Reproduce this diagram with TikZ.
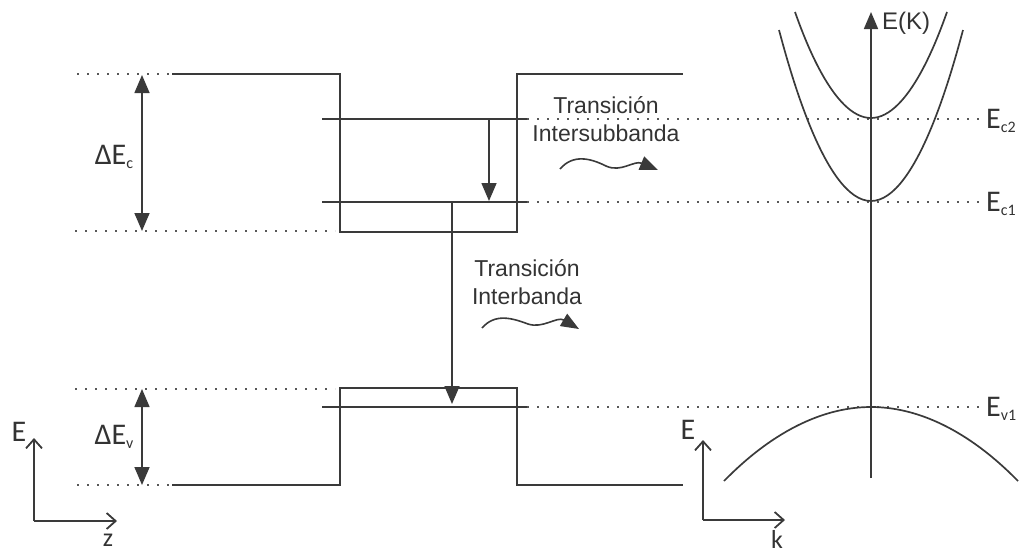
\documentclass[tikz,border=0pt]{standalone}
\usepackage{fontspec}
\newfontfamily\arialf{Liberation Sans}
\newfontfamily\calf{Carlito}
\usetikzlibrary{arrows.meta}
\definecolor{ln}{HTML}{3A3A3A}
\definecolor{tx}{HTML}{333333}
\tikzset{
  band/.style={draw=ln,line width=1.7pt},
  dotline/.style={draw=ln!85,line width=1.6pt,dash pattern=on 1.6pt off 8.4pt},
  trans/.style={draw=ln,line width=1.6pt,-{Triangle[length=18pt,width=15pt]}},
  dbl/.style={draw=ln,line width=1.6pt,{Triangle[length=18pt,width=15pt]}-{Triangle[length=18pt,width=15pt]}},
  axisar/.style={draw=ln,line width=1.8pt,-{Straight Barb[length=9pt,width=16pt]}},
  wavy/.style={draw=ln,line width=1.6pt,-{Triangle[length=18pt,width=14pt]}},
  ttxt/.style={text=tx,font=\arialf\fontsize{23}{28}\selectfont,align=center,inner sep=0pt},
  ltxt/.style={text=tx,font=\calf\fontsize{30}{30}\selectfont,inner sep=0pt},
  btxt/.style={text=tx,font=\calf\fontsize{26}{26}\selectfont,inner sep=0pt},
}
\newcommand{\subl}[1]{\raisebox{-0.3ex}{\fontsize{16}{16}\selectfont #1}}
\begin{document}
\begin{tikzpicture}[x=1pt,y=-1pt]
\useasboundingbox (0,0) rectangle (1019,550);
% conduction band profile
\draw[dotline] (77,74) -- (172,74);
\draw[dotline] (75,231) -- (335,231);
\draw[band] (172,74) -- (340,74) -- (340,232) -- (517,232) -- (517,74) -- (683,74);
% valence band profile
\draw[dotline] (75,389) -- (335,389);
\draw[dotline] (77,485) -- (172,485);
\draw[band] (172,485) -- (340,485) -- (340,388) -- (517,388) -- (517,485) -- (683,485);
% levels
\coordinate (c2l) at (322,119); \coordinate (c2r) at (527,119);
\coordinate (c1l) at (322,202); \coordinate (c1r) at (527,202);
\coordinate (v1l) at (322,407); \coordinate (v1r) at (527,407);
\draw[band] (c2l) -- (c2r);
\draw[band] (c1l) -- (c1r);
\draw[band] (v1l) -- (v1r);
% dotted continuations
\coordinate (c2e) at (983,119);
\coordinate (c1e) at (983,202);
\coordinate (v1e) at (983,407);
\draw[dotline] (c2r) -- (c2e);
\draw[dotline] (c1r) -- (c1e);
\draw[dotline] (v1r) -- (v1e);
% transitions
\coordinate (isA) at (489,119); \coordinate (isB) at (489,201);
\draw[trans] (isA) -- (isB);
\coordinate (ibA) at (452,202); \coordinate (ibB) at (452,404);
\draw[trans] (ibA) -- (ibB);
% Delta E arrows
\coordinate (dcA) at (142,75); \coordinate (dcB) at (142,231);
\draw[dbl] (dcA) -- (dcB);
\coordinate (dvA) at (142,389); \coordinate (dvB) at (142,485);
\draw[dbl] (dvA) -- (dvB);
\node[ltxt] (dEc) at (114,157) {ΔE\subl{c}};
\node[ltxt] (dEv) at (114,437) {ΔE\subl{v}};
% transition labels
\node[ttxt] (tis) at (606,119) {Transición\\Intersubbanda};
\node[ttxt] (tib) at (527,282) {Transición\\Interbanda};
\draw[wavy] (560,169) .. controls (573,154) and (590,158) .. (606,166)
  .. controls (621,173) and (634,160) .. (658,170);
\draw[wavy] (482,328) .. controls (495,313) and (512,318) .. (528,324)
  .. controls (543,329) and (557,316) .. (579,329);
% dispersion
\coordinate (kbot) at (871,478); \coordinate (ktop) at (871,12);
\draw[band,-{Triangle[length=17pt,width=14pt]}] (kbot) -- (ktop);
\node[text=tx,font=\arialf\fontsize{24}{24}\selectfont,anchor=west,inner sep=0pt] (EK) at (882,23) {E(K)};
\draw[band] (779,30) parabola bend (871,201) (963,30);
\draw[band] (795,12) parabola bend (871,118) (947,12);
\draw[band] (724,481) parabola bend (871,407) (1018,481);
\node[ltxt,anchor=west] (Ec2) at (986,121) {E\subl{c2}};
\node[ltxt,anchor=west] (Ec1) at (986,204) {E\subl{c1}};
\node[ltxt,anchor=west] (Ev1) at (986,409) {E\subl{v1}};
% axes left
\coordinate (lz0) at (34,521); \coordinate (lzE) at (34,438); \coordinate (lzZ) at (117,521);
\draw[axisar] (lz0) -- (lzE);
\draw[axisar] (lz0) -- (lzZ);
\node[ltxt] (lE) at (19,432) {E};
\node[btxt] (lZ) at (108,540) {z};
% axes right
\coordinate (rk0) at (703,520); \coordinate (rkE) at (703,440); \coordinate (rkK) at (785,520);
\draw[axisar] (rk0) -- (rkE);
\draw[axisar] (rk0) -- (rkK);
\node[ltxt] (rE) at (688,430) {E};
\node[btxt] (rK) at (777,539) {k};
\end{tikzpicture}
\end{document}
